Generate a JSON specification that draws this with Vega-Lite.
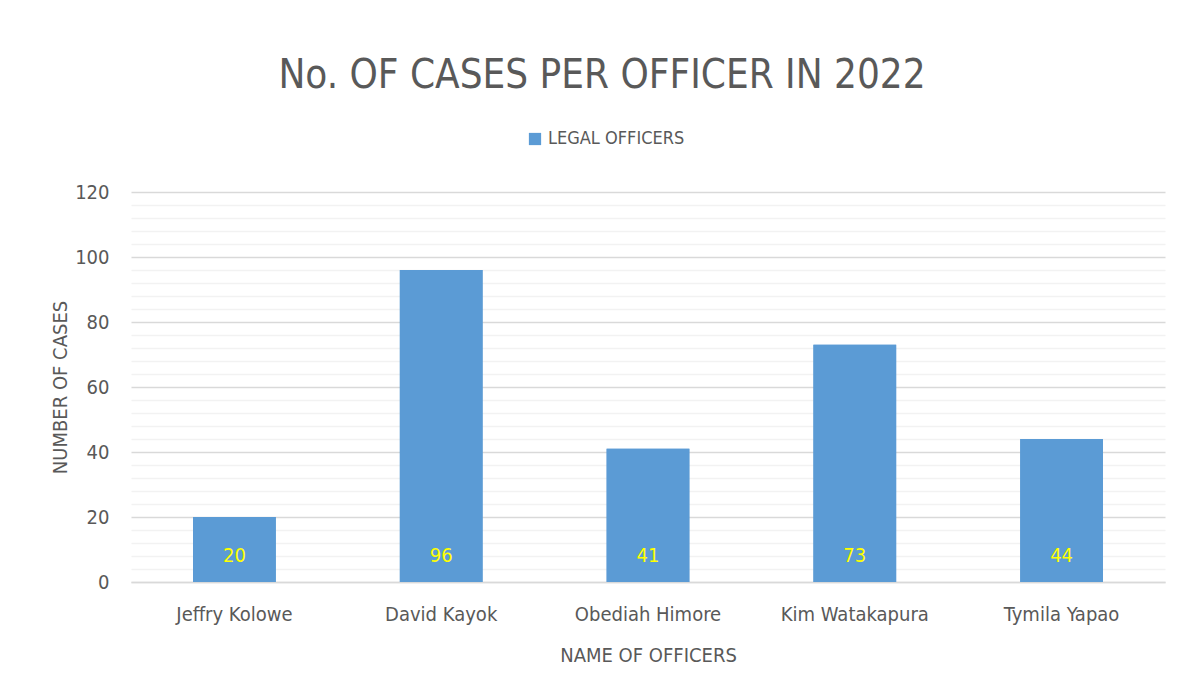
{
  "$schema": "https://vega.github.io/schema/vega-lite/v6.json",
  "width": 1034,
  "height": 390,
  "autosize": {"type": "none"},
  "padding": {"left": 131, "top": 192, "right": 20, "bottom": 111},
  "background": "white",
  "config": {
    "font": "DejaVu Sans Condensed, sans-serif",
    "view": {"stroke": null}
  },
  "title": {
    "text": "No. OF CASES PER OFFICER IN 2022",
    "fontSize": 40,
    "fontWeight": "normal",
    "color": "#595959",
    "anchor": "middle",
    "frame": "group",
    "dx": -46,
    "offset": 34
  },
  "data": {
    "values": [
      {"officer": "Jeffry Kolowe", "cases": 20},
      {"officer": "David Kayok", "cases": 96},
      {"officer": "Obediah Himore", "cases": 41},
      {"officer": "Kim Watakapura", "cases": 73},
      {"officer": "Tymila Yapao", "cases": 44}
    ]
  },
  "encoding": {
    "x": {
      "field": "officer",
      "type": "nominal",
      "sort": null,
      "scale": {"paddingInner": 0.6, "paddingOuter": 0.3},
      "axis": {
        "title": "NAME OF OFFICERS",
        "titleFontSize": 20,
        "titleFontWeight": "normal",
        "titleColor": "#595959",
        "titlePadding": 21,
        "labelAngle": 0,
        "labelFontSize": 20,
        "labelColor": "#595959",
        "labelPadding": 22,
        "ticks": false,
        "domainColor": "#D9D9D9",
        "domainWidth": 1.5,
        "grid": false
      }
    }
  },
  "layer": [
    {
      "mark": {"type": "bar", "color": "#5B9BD5"},
      "encoding": {
        "y": {
          "field": "cases",
          "type": "quantitative",
          "scale": {"domain": [0, 120], "nice": false},
          "axis": {
            "orient": "left",
            "values": [4, 8, 12, 16, 24, 28, 32, 36, 44, 48, 52, 56, 64, 68, 72, 76, 84, 88, 92, 96, 104, 108, 112, 116],
            "grid": true,
            "gridColor": "#F2F2F2",
            "gridWidth": 1.5,
            "labels": false,
            "ticks": false,
            "domain": false,
            "title": null,
            "zindex": 0
          }
        },
        "color": {
          "datum": "LEGAL OFFICERS",
          "type": "nominal",
          "scale": {"range": ["#5B9BD5"]},
          "legend": {
            "title": null,
            "orient": "none",
            "legendX": 395,
            "legendY": -62,
            "symbolType": "square",
            "symbolSize": 150,
            "symbolStrokeWidth": 0,
            "labelFontSize": 18,
            "labelColor": "#595959"
          }
        }
      }
    },
    {
      "mark": {"type": "bar", "color": "#5B9BD5"},
      "encoding": {
        "y": {
          "field": "cases",
          "type": "quantitative",
          "scale": {"domain": [0, 120], "nice": false},
          "axis": {
            "orient": "left",
            "values": [0, 20, 40, 60, 80, 100, 120],
            "grid": true,
            "gridColor": "#D9D9D9",
            "gridWidth": 1.5,
            "ticks": false,
            "domain": false,
            "labelFontSize": 20,
            "labelColor": "#595959",
            "labelPadding": 22,
            "title": "NUMBER OF CASES",
            "titleFontSize": 20,
            "titleFontWeight": "normal",
            "titleColor": "#595959",
            "titlePadding": 4,
            "zindex": 0
          }
        }
      }
    },
    {
      "mark": {"type": "text", "color": "#FFFF00", "fontSize": 20, "baseline": "middle", "dy": -26},
      "encoding": {
        "y": {"datum": 0, "type": "quantitative", "axis": null},
        "text": {"field": "cases", "type": "quantitative"}
      }
    }
  ],
  "resolve": {"axis": {"y": "independent"}}
}
